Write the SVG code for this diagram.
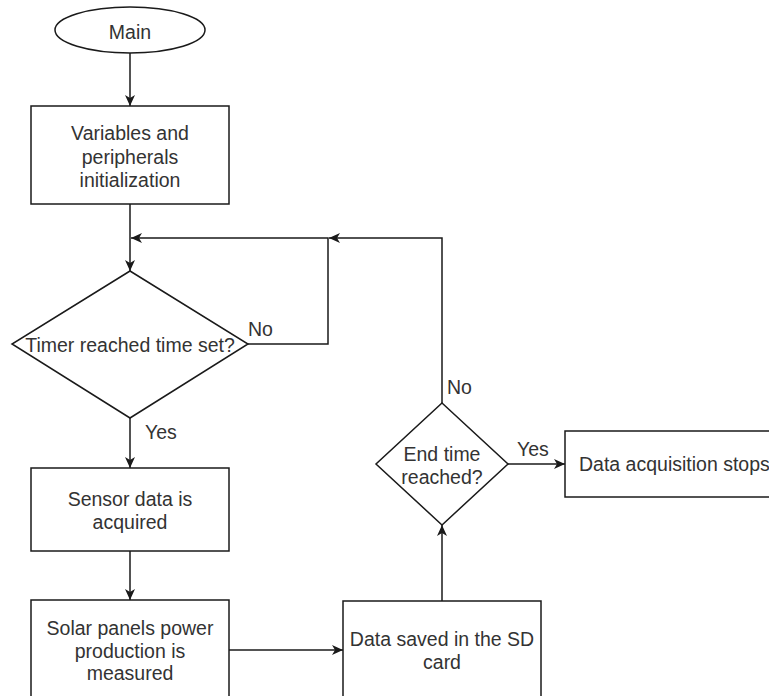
<svg xmlns="http://www.w3.org/2000/svg" width="769" height="696" viewBox="0 0 769 696">
<defs>
<style>
.s{fill:#fff;stroke:#1a1a1a;stroke-width:1.5}
.t{font-family:"Liberation Sans",Arial,sans-serif;font-size:19.5px;fill:#333;text-anchor:middle}
.l{font-family:"Liberation Sans",Arial,sans-serif;font-size:19.5px;fill:#333}
.c{fill:none;stroke:#1a1a1a;stroke-width:1.5}
</style>
<marker id="a" markerUnits="userSpaceOnUse" markerWidth="12" markerHeight="10" refX="11" refY="5" orient="auto">
<path d="M0,0 L11,5 L0,10 L3,5 Z" fill="#1a1a1a"/>
</marker>
</defs>
<rect width="769" height="696" fill="#fff"/>
<g id="connectors">
<path class="c" d="M130,53 L130,106" marker-end="url(#a)"/>
<path class="c" d="M130,204 L130,271" marker-end="url(#a)"/>
<path class="c" d="M248,344 L328,344 L328,238 L131,238" marker-end="url(#a)"/>
<path class="c" d="M130,418 L130,468" marker-end="url(#a)"/>
<path class="c" d="M130,551 L130,600" marker-end="url(#a)"/>
<path class="c" d="M229,650 L343,650" marker-end="url(#a)"/>
<path class="c" d="M442,601 L442,525" marker-end="url(#a)"/>
<path class="c" d="M442,403 L442,238 L329,238" marker-end="url(#a)"/>
<path class="c" d="M508,464 L565,464" marker-end="url(#a)"/>
<text class="l" x="248" y="336">No</text>
<text class="l" x="145" y="439">Yes</text>
<text class="l" x="447" y="394">No</text>
<text class="l" x="517" y="456">Yes</text>
</g>
<g id="main">
<ellipse class="s" cx="130" cy="30" rx="75" ry="23"/>
<text class="t" x="130" y="39">Main</text>
</g>
<g id="init">
<rect class="s" x="31" y="106" width="198" height="98"/>
<text class="t" x="130" y="140">Variables and</text>
<text class="t" x="130" y="164">peripherals</text>
<text class="t" x="130" y="187">initialization</text>
</g>
<g id="timer">
<polygon class="s" points="130,271 248,344 130,418 12,344"/>
<text class="t" x="130" y="352">Timer reached time set?</text>
</g>
<g id="sensor">
<rect class="s" x="31" y="468" width="198" height="83"/>
<text class="t" x="130" y="506">Sensor data is</text>
<text class="t" x="130" y="529">acquired</text>
</g>
<g id="solar">
<rect class="s" x="31" y="600" width="198" height="120"/>
<text class="t" x="130" y="635">Solar panels power</text>
<text class="t" x="130" y="658">production is</text>
<text class="t" x="130" y="680">measured</text>
</g>
<g id="sd">
<rect class="s" x="343" y="601" width="198" height="120"/>
<text class="t" x="442" y="646">Data saved in the SD</text>
<text class="t" x="442" y="669">card</text>
</g>
<g id="endtime">
<polygon class="s" points="442,403 508,464 442,525 376,464"/>
<text class="t" x="442" y="461">End time</text>
<text class="t" x="442" y="484">reached?</text>
</g>
<g id="stop">
<rect class="s" x="565" y="431" width="240" height="66"/>
<text class="l" x="579" y="471">Data acquisition stops</text>
</g>
</svg>
